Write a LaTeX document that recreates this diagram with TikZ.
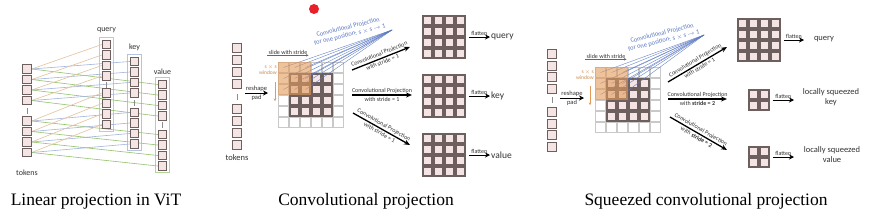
\documentclass[tikz,border=0pt]{standalone}
\usepackage{fontspec}
\setmainfont{Liberation Serif}
\newfontfamily\figfont{Carlito}
\usetikzlibrary{arrows.meta,positioning,fit,backgrounds}
\definecolor{cellpink}{HTML}{F4E4E4}
\definecolor{cellline}{HTML}{6E5F5F}
\definecolor{padline}{HTML}{C9C9C9}
\definecolor{winorange}{HTML}{E39A58}
\definecolor{projblue}{HTML}{5B78C2}
\definecolor{qcol}{HTML}{E3C29C}
\definecolor{kcol}{HTML}{A2B4DC}
\definecolor{vcol}{HTML}{93C26C}
\definecolor{reddot}{HTML}{E8202A}
\definecolor{txtgray}{HTML}{333333}

\begin{document}
\begin{tikzpicture}[x=1pt,y=-1pt,
  tok/.style={rectangle,draw=cellline,fill=cellpink,line width=0.9pt,minimum size=8.5pt,inner sep=0pt},
  cell/.style={rectangle,draw=cellline,fill=cellpink,line width=1.1pt,minimum size=9pt,inner sep=0pt},
  padcell/.style={rectangle,draw=padline,fill=white,line width=0.7pt,minimum size=9.5pt,inner sep=0pt},
  win/.style={rectangle,fill=winorange,fill opacity=0.6,minimum size=33pt,inner sep=0pt},
  colframe/.style={rectangle,inner sep=2pt,line width=0.7pt},
  lbl/.style={font=\figfont\fontsize{8}{9}\selectfont,text=txtgray,inner sep=1pt},
  outlbl/.style={font=\figfont\fontsize{9.5}{10}\selectfont,text=txtgray,inner sep=1pt},
  sqlbl/.style={font=\figfont\fontsize{8.5}{10}\selectfont,text=txtgray,inner sep=1pt,align=center},
  small/.style={font=\figfont\fontsize{6}{7}\selectfont,text=txtgray,inner sep=1pt},
  arrlbl/.style={font=\figfont\fontsize{6}{7}\selectfont,text=txtgray,inner sep=1.2pt},
  bluelbl/.style={font=\figfont\fontsize{6.5}{7.5}\selectfont,text=projblue,align=center,rotate=14,inner sep=0pt},
  winlbl/.style={font=\figfont\fontsize{5.5}{6.2}\selectfont,text=winorange!90!black,align=right,inner sep=0pt},
  caption/.style={font=\fontsize{17.5}{20}\selectfont,anchor=base},
  bigarrow/.style={-{Stealth[length=6pt,width=5pt]},line width=1.3pt},
  flat/.style={-{Stealth[length=5pt,width=5pt]},line width=1pt},
  fan/.style={projblue,line width=0.35pt},
  vmark/.style={black!45,line width=0.6pt}
]
\useasboundingbox (0,0) rectangle (871,218);

% ---- linear projection in ViT
\foreach \y [count=\i] in {69,79.5,90,100.5,121,131.5,142,152.5}
  \node[tok] (t\i) at (27,\y) {};
\foreach \y [count=\i] in {44.5,55,65.5,76,93,103.5,114,124.5}
  \node[tok] (q\i) at (106.5,\y) {};
\foreach \y [count=\i] in {61.5,72,82.5,93,112.5,123,133.5,144}
  \node[tok] (k\i) at (134.5,\y) {};
\foreach \y [count=\i] in {84.5,95,105.5,116,134.5,145,155.5,166}
  \node[tok] (v\i) at (162.5,\y) {};
\draw[vmark] (27,108) -- (27,114);
\draw[vmark] (106.5,82) -- (106.5,88);
\draw[vmark] (134.5,100) -- (134.5,106);
\draw[vmark] (162.5,122) -- (162.5,128);
\begin{pgfonlayer}{background}
  \fill[white] (0,0) rectangle (871,218);
  \node[colframe,draw=black!22,fit=(q1)(q8)] (qframe) {};
  \node[colframe,draw=kcol!80,fit=(k1)(k8)] (kframe) {};
  \node[colframe,draw=vcol!70,fit=(v1)(v8)] (vframe) {};
  \foreach \i in {1,...,8} {
    \draw[qcol,line width=0.6pt] (t\i.east) -- (q\i.west);
    \draw[kcol,line width=0.6pt] (t\i.east) -- (k\i.west);
    \draw[vcol,line width=0.6pt] (t\i.east) -- (v\i.west);
  }
\end{pgfonlayer}
\node[lbl,above=3pt of qframe] (qname) {query};
\node[lbl,above=2pt of kframe] (kname) {key};
\node[lbl,above=2pt of vframe] (vname) {value};
\node[lbl] (tname1) at (27,173) {tokens};
\node[caption] (cap1) at (96,205) {Linear projection in ViT};

% ---- token columns of the two convolutional panels
\foreach \y [count=\i] in {48,60,72,84,109,121,133,145}
  \node[tok,minimum size=9.5pt] (ta\i) at (237,\y) {};
\foreach \y [count=\i] in {54,65.5,77,88.5,112,123.5,135,146.5}
  \node[tok,minimum size=9pt] (tb\i) at (552,\y) {};
\draw[vmark] (237,94) -- (237,100);
\draw[vmark] (552,97) -- (552,103);
\node[lbl,font=\figfont\fontsize{8.5}{9}\selectfont] (tname2) at (237,158) {tokens};

% ---- padded input grids with the s x s window
\foreach \p/\gx/\gy in {2/278/62,3/595/67} {
  \foreach \r in {1,...,6}
    \foreach \c in {1,...,6}
      \node[padcell] (pad\p-\r-\c) at ({\gx+5.5+11*(\c-1)},{\gy+5.5+11*(\r-1)}) {};
  \foreach \r in {2,...,5}
    \foreach \c in {2,...,5}
      \node[cell] (g\p-\r-\c) at ({\gx+5.5+11*(\c-1)},{\gy+5.5+11*(\r-1)}) {};
}
\coordinate (fan2) at (392,30);
\coordinate (fan3) at (704,35);
\foreach \p in {2,3}
  \foreach \r in {1,2,3}
    \foreach \c in {1,2,3}
      \draw[fan] (pad\p-\r-\c.center) -- (fan\p);
\node[win] (win2) at (294.5,78.5) {};
\node[win] (win3) at (611.5,83.5) {};

\node[bluelbl] (proj2) at (349,31) {Convolutional Projection\\for one position: s $\times$ s $\rightarrow$ 1};
\node[bluelbl] (proj3) at (663,37) {Convolutional Projection\\for one position: s $\times$ s $\rightarrow$ 1};

\node[small] (slide2) at (288,52) {slide with stride};
\node[small] (slide3) at (606,56) {slide with stride};
\draw[-{Stealth[length=2.5pt,width=2.5pt]},black!60,line width=0.4pt] (slide2.south west) -- (slide2.south east);
\draw[-{Stealth[length=2.5pt,width=2.5pt]},black!60,line width=0.4pt] (slide3.south west) -- (slide3.south east);

\node[winlbl,anchor=east] (swin2) at (277,70) {s $\times$ s\\window};
\node[winlbl,anchor=east] (swin3) at (594,75) {s $\times$ s\\window};
\draw[-{Stealth[length=2.5pt,width=2.5pt]},winorange,line width=0.5pt] (275,82) -- (275,101);
\draw[-{Stealth[length=2.5pt,width=2.5pt]},winorange,line width=0.5pt] (590,86) -- (590,105);

% reshape / pad
\coordinate (rs2) at (245,93);  \coordinate (re2) at (268,93);
\coordinate (rs3) at (560,98);  \coordinate (re3) at (584,98);
\draw[flat] (rs2) -- node[small,above,font=\figfont\fontsize{6.5}{7}\selectfont]{reshape} node[small,below,font=\figfont\fontsize{6.5}{7}\selectfont]{pad} (re2);
\draw[flat] (rs3) -- node[small,above,font=\figfont\fontsize{6.5}{7}\selectfont]{reshape} node[small,below,font=\figfont\fontsize{6.5}{7}\selectfont]{pad} (re3);

% ---- projection arrows
\coordinate (a2s) at (352,70);  \coordinate (a2e) at (410,47);
\coordinate (b2s) at (352,95);  \coordinate (b2e) at (412,95);
\coordinate (c2s) at (353,113); \coordinate (c2e) at (410,145);
\draw[bigarrow] (a2s) -- node[arrlbl,sloped,above]{Convolutional Projection} node[arrlbl,sloped,below]{with stride = 1} (a2e);
\draw[bigarrow] (b2s) -- node[arrlbl,sloped,above]{Convolutional Projection} node[arrlbl,sloped,below]{with stride = 1} (b2e);
\draw[bigarrow] (c2s) -- node[arrlbl,sloped,above]{Convolutional Projection} node[arrlbl,sloped,below]{with stride = 1} (c2e);

\coordinate (a3s) at (668,82);  \coordinate (a3e) at (727,47);
\coordinate (b3s) at (668,99);  \coordinate (b3e) at (727,99);
\coordinate (c3s) at (670,117); \coordinate (c3e) at (727,150);
\draw[bigarrow] (a3s) -- node[arrlbl,sloped,above]{Convolutional Projection} node[arrlbl,sloped,below]{with stride = 1} (a3e);
\draw[bigarrow] (b3s) -- node[arrlbl,sloped,above]{Convolutional Projection} node[arrlbl,sloped,below]{with \textbf{stride = 2}} (b3e);
\draw[bigarrow] (c3s) -- node[arrlbl,sloped,above]{Convolutional Projection} node[arrlbl,sloped,below]{with \textbf{stride = 2}} (c3e);

% ---- output grids
\foreach \g/\gx/\gy/\n in {qg2/422/15/4,kg2/422/74/4,vg2/422/133/4,qg3/737/18/4,kg3/748/89/2,vg3/748/146/2} {
  \foreach \r in {1,...,\n}
    \foreach \c in {1,...,\n}
      \node[cell] (\g-\r-\c) at ({\gx+5.5+11*(\c-1)},{\gy+5.5+11*(\r-1)}) {};
  \node[fit=(\g-1-1)(\g-\n-\n),inner sep=0pt] (\g) {};
}

\node[outlbl,anchor=west] (qo2) at (490,37) {query};
\node[outlbl,anchor=west] (ko2) at (490,96) {key};
\node[outlbl,anchor=west] (vo2) at (490,155) {value};
\draw[flat] ([xshift=3pt]qg2.east) -- (qo2.west) node[midway,above,small]{flatten};
\draw[flat] ([xshift=3pt]kg2.east |- ko2.west) -- (ko2.west) node[midway,above,small]{flatten};
\draw[flat] ([xshift=3pt]vg2.east |- vo2.west) -- (vo2.west) node[midway,above,small]{flatten};

\coordinate (qf3) at (804,40);
\coordinate (kf3) at (794,100);
\coordinate (vf3) at (794,157);
\draw[flat] ([xshift=3pt]qg3.east) -- (qf3) node[midway,above,small]{flatten};
\draw[flat] ([xshift=3pt]kg3.east) -- (kf3) node[midway,above,small]{flatten};
\draw[flat] ([xshift=3pt]vg3.east) -- (vf3) node[midway,above,small]{flatten};
\node[sqlbl] (qo3) at (824,39) {query};
\node[sqlbl] (ko3) at (831,97) {locally squeezed\\key};
\node[sqlbl] (vo3) at (832,155) {locally squeezed\\value};

\node[circle,fill=reddot,minimum size=10pt,inner sep=0pt] (dot) at (314,9) {};

\node[caption] (cap2) at (366,205) {Convolutional projection};
\node[caption] (cap3) at (706,205) {Squeezed convolutional projection};
\end{tikzpicture}
\end{document}
